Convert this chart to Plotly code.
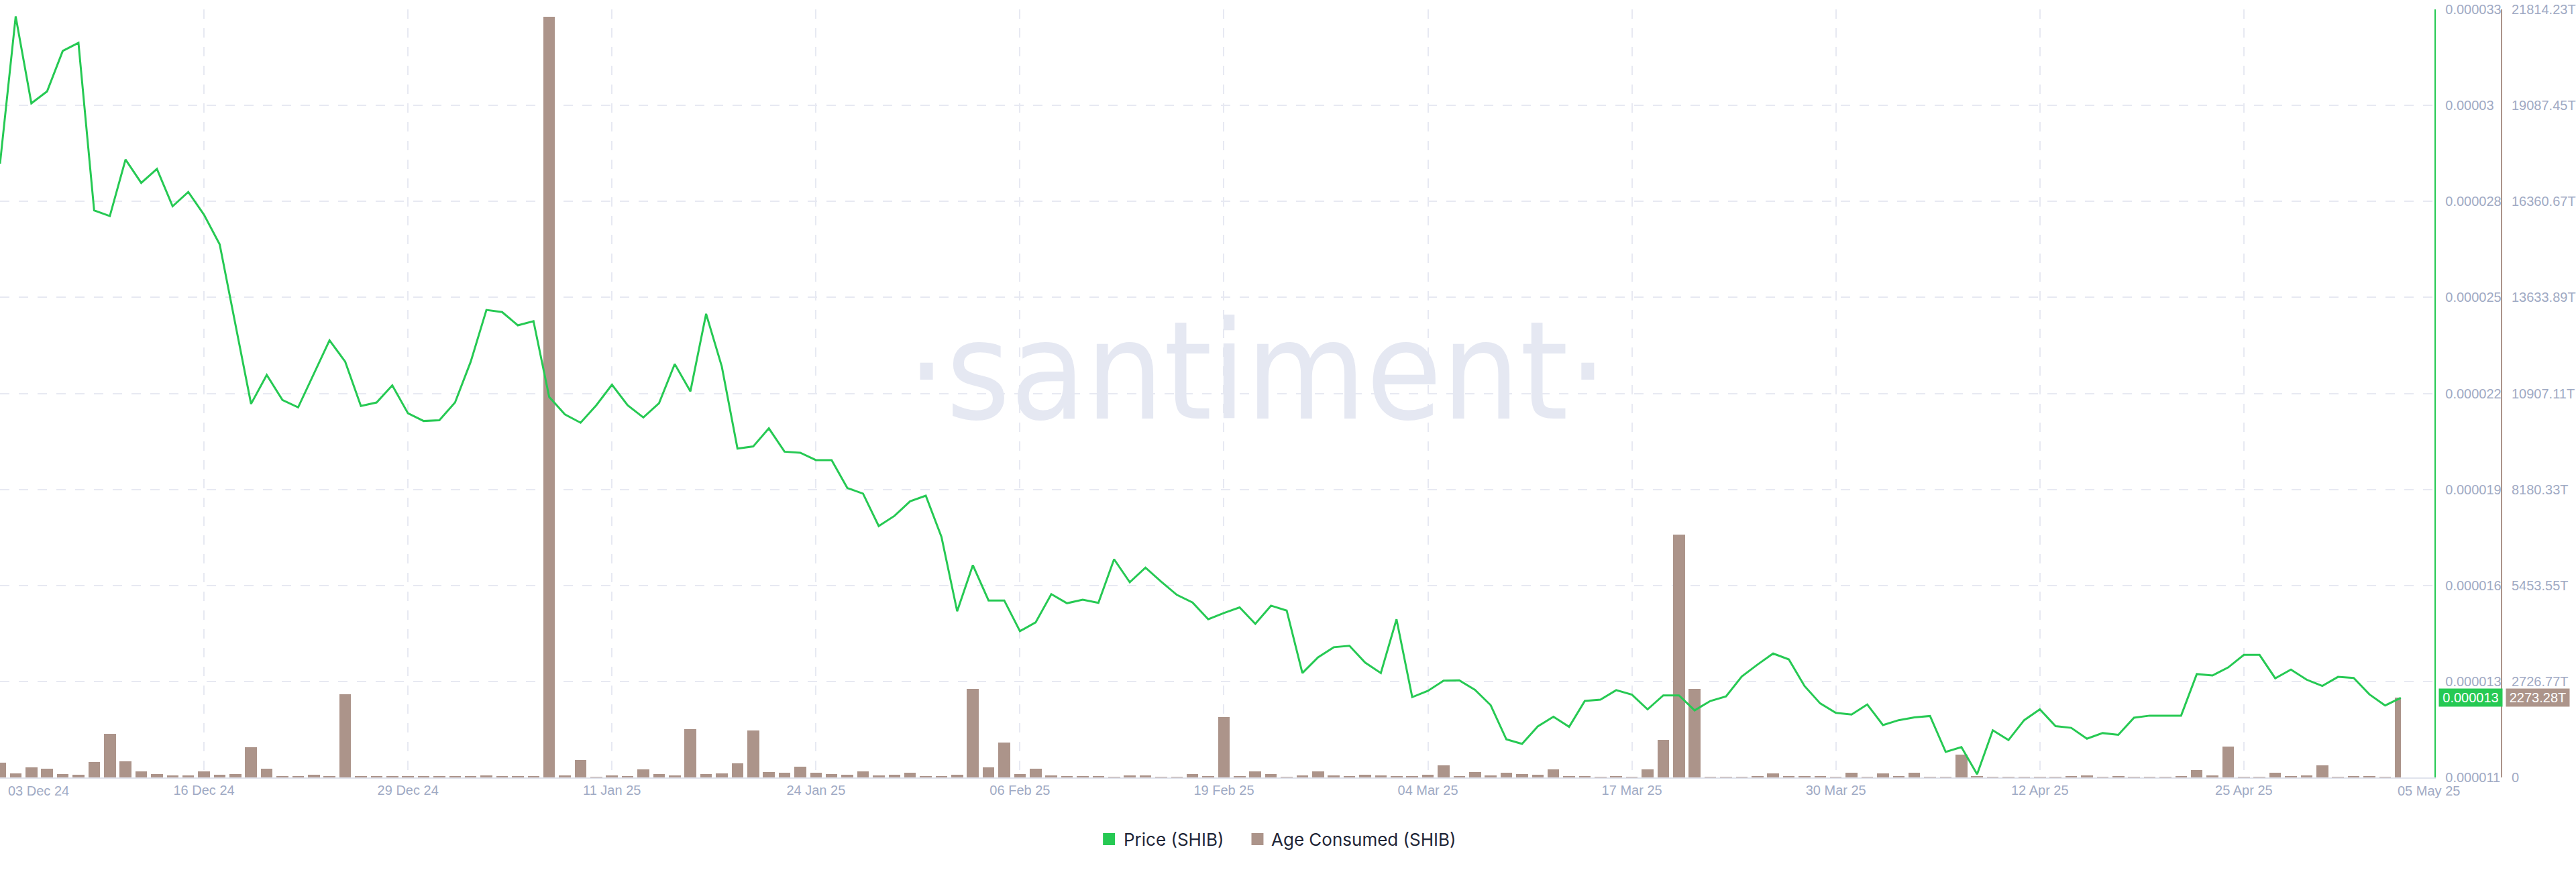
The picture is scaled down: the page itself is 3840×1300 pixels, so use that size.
import plotly.graph_objects as go
import pandas as pd

# ---------------- data ----------------
start_date = "2024-12-03"

# Price (SHIB) in micro-USD (x 1e-6), one value per day from 03 Dec 24 to 05 May 25
price_micro = [
    28.58, 32.80, 30.31, 30.65, 31.81, 32.04, 27.24, 27.08, 28.70, 28.03,
    28.43, 27.36, 27.77, 27.12, 26.27, 23.97, 21.70, 22.53, 21.81, 21.60,
    22.55, 23.52, 22.91, 21.64, 21.74, 22.23, 21.43, 21.21, 21.23, 21.74,
    22.91, 24.39, 24.33, 23.95, 24.07, 21.90, 21.40, 21.16, 21.66, 22.25,
    21.66, 21.31, 21.72, 22.84, 22.06, 24.28, 22.77, 20.42, 20.48, 21.00,
    20.33, 20.30, 20.09, 20.09, 19.29, 19.13, 18.20, 18.49, 18.91, 19.07,
    17.89, 15.76, 17.08, 16.07, 16.07, 15.19, 15.44, 16.25, 15.99, 16.09,
    16.00, 17.25, 16.59, 17.01, 16.61, 16.23, 16.01, 15.53, 15.71, 15.87,
    15.40, 15.92, 15.78, 13.99, 14.44, 14.73, 14.77, 14.29, 13.99, 15.53,
    13.30, 13.48, 13.77, 13.78, 13.51, 13.07, 12.09, 11.96, 12.46, 12.74,
    12.45, 13.19, 13.23, 13.50, 13.37, 12.95, 13.35, 13.35, 12.92, 13.19,
    13.32, 13.89, 14.23, 14.55, 14.38, 13.62, 13.12, 12.85, 12.80, 13.09,
    12.50, 12.64, 12.72, 12.76, 11.73, 11.87, 11.09, 12.35, 12.07, 12.64,
    12.95, 12.47, 12.42, 12.11, 12.27, 12.22, 12.71, 12.77, 12.77, 12.77,
    13.96, 13.92, 14.15, 14.51, 14.51, 13.84, 14.09, 13.80, 13.62, 13.88,
    13.85, 13.38, 13.06, 13.28,
]

# Age Consumed (SHIB) in trillions (T), one value per day
age_consumed_T = [
    414, 121, 293, 255, 102, 83, 433, 1230, 465, 178,
    89, 64, 64, 178, 83, 102, 866, 242, 45, 25,
    83, 45, 2364, 25, 25, 25, 45, 25, 45, 25,
    45, 64, 38, 25, 45, 21600, 51, 497, 15, 62,
    30, 237, 88, 62, 1381, 97, 114, 396, 1328, 158,
    141, 308, 141, 88, 70, 167, 62, 70, 141, 35,
    35, 70, 2507, 281, 994, 88, 255, 53, 35, 35,
    35, 18, 62, 53, 8, 15, 97, 45, 1718, 38,
    172, 102, 19, 57, 166, 64, 38, 77, 57, 38,
    45, 83, 345, 45, 153, 51, 140, 102, 70, 224,
    45, 26, 10, 38, 15, 224, 1073, 6890, 2522, 10,
    10, 10, 30, 121, 38, 32, 32, 3, 134, 10,
    109, 38, 140, 12, 12, 651, 26, 15, 15, 12,
    3, 3, 25, 57, 19, 45, 10, 3, 3, 20,
    204, 57, 881, 15, 10, 134, 26, 57, 345, 3,
    38, 26, 10, 2273.28,
]

price_tick_labels = ["0.000011", "0.000013", "0.000016", "0.000019", "0.000022",
                     "0.000025", "0.000028", "0.00003", "0.000033"]
price_axis_min, price_axis_max = 0.000011, 0.000033

age_tick_labels = ["0", "2726.77T", "5453.55T", "8180.33T", "10907.11T",
                   "13633.89T", "16360.67T", "19087.45T", "21814.23T"]

x_tick_dates = ["2024-12-03", "2024-12-16", "2024-12-29", "2025-01-11", "2025-01-24",
                "2025-02-06", "2025-02-19", "2025-03-04", "2025-03-17", "2025-03-30",
                "2025-04-12", "2025-04-25"]
x_tick_labels = ["", "16 Dec 24", "29 Dec 24", "11 Jan 25", "24 Jan 25",
                 "06 Feb 25", "19 Feb 25", "04 Mar 25", "17 Mar 25", "30 Mar 25",
                 "12 Apr 25", "25 Apr 25"]
first_date_label = "03 Dec 24"
last_date_label = "05 May 25"
last_price_label = "0.000013"
last_age_label = "2273.28T"

legend_labels = ["Price (SHIB)", "Age Consumed (SHIB)"]
watermark = "\u00b7santiment\u00b7"

# ---------------- derived ----------------
dates = pd.date_range(start_date, periods=len(price_micro), freq="D")
price = [p * 1e-6 for p in price_micro]
n = len(dates)
price_tick_vals = [price_axis_min + i * (price_axis_max - price_axis_min) / (len(price_tick_labels) - 1)
                   for i in range(len(price_tick_labels))]
age_tick_vals = [float(t.rstrip("T")) for t in age_tick_labels]

# ---------------- style / layout constants ----------------
W, H = 3840, 1300
PLOT_R = 3640       # price axis x (px)
AGE_X = 3740        # age axis x (px)
PLOT_T, PLOT_B = 14, 1159
GREEN = "#26c953"
BROWN = "#ac948a"
GRID = "#e7e9f2"
TICK_COLOR = "#9faac4"
AXIS_FONT = "Liberation Sans, Arial, sans-serif"
DAY_MS = 86400000
BAR_W = 0.75 * DAY_MS


def px_x(px):
    return px / AGE_X


def px_y(py):
    return (PLOT_B - py) / (PLOT_B - PLOT_T)


bar_widths = [BAR_W] * (n - 1) + [BAR_W / 2]
bar_offsets = [-BAR_W / 2] * n

fig = go.Figure()
fig.add_trace(go.Bar(
    x=dates, y=age_consumed_T, yaxis="y", name=legend_labels[1],
    marker=dict(color=BROWN, line=dict(width=0)),
    width=bar_widths, offset=bar_offsets, showlegend=False,
))
fig.add_trace(go.Scatter(
    x=dates, y=price, yaxis="y2", name=legend_labels[0], mode="lines",
    line=dict(color=GREEN, width=3), showlegend=False,
))

tickfont = dict(family=AXIS_FONT, size=20, color=TICK_COLOR)

fig.update_layout(
    width=W, height=H,
    margin=dict(l=0, r=W - AGE_X, t=PLOT_T, b=H - PLOT_B, pad=0),
    paper_bgcolor="white", plot_bgcolor="white",
    showlegend=False,
    bargap=0,
    xaxis=dict(
        domain=[0, PLOT_R / AGE_X],
        type="date",
        range=["2024-12-03 00:00:00", "2025-05-07 03:50:00"],
        tickvals=x_tick_dates, ticktext=x_tick_labels,
        showgrid=True, gridcolor=GRID, gridwidth=2, griddash="14px,14px",
        showline=True, linecolor="#e0e3ed", linewidth=2,
        ticks="", ticklabelstandoff=0, tickfont=tickfont,
        zeroline=False,
    ),
    yaxis=dict(
        range=[0, age_tick_vals[-1]],
        side="right", anchor="free", position=1.0,
        tickvals=age_tick_vals, ticktext=age_tick_labels,
        showgrid=True, gridcolor=GRID, gridwidth=2, griddash="14px,14px",
        showline=True, linecolor=BROWN, linewidth=2,
        ticks="", ticklabelstandoff=10, tickfont=tickfont,
        zeroline=False,
    ),
    yaxis2=dict(
        range=[price_axis_min, price_axis_max],
        overlaying="y", side="right", anchor="x",
        tickvals=price_tick_vals, ticktext=price_tick_labels,
        showgrid=False,
        showline=True, linecolor=GREEN, linewidth=2,
        ticks="", ticklabelstandoff=10, tickfont=tickfont,
        zeroline=False,
    ),
)

annotations = [
    # watermark
    dict(text=watermark, xref="paper", yref="paper", x=px_x(1880), y=px_y(553),
         xanchor="center", yanchor="middle", showarrow=False,
         font=dict(family="DejaVu Sans Condensed, DejaVu Sans, sans-serif",
                   size=204, color="#e5e8f2")),
    # edge date labels
    dict(text=first_date_label, xref="x", yref="paper", x=dates[0], y=0, xanchor="left",
         yanchor="middle", xshift=10, yshift=-20, showarrow=False, font=tickfont),
    dict(text=last_date_label, xref="x", yref="paper", x=dates[-1], y=0, xanchor="left",
         yanchor="middle", xshift=-7, yshift=-20, showarrow=False, font=tickfont),
    # last value badges
    dict(text=last_price_label, xref="paper", yref="y2", x=px_x(3646), y=price[-1],
         xanchor="left", yanchor="middle", showarrow=False, bgcolor=GREEN,
         width=94, height=26, borderpad=0, align="center",
         font=dict(family=AXIS_FONT, size=20, color="white")),
    dict(text=last_age_label, xref="paper", yref="y", x=px_x(3746), y=age_consumed_T[-1],
         xanchor="left", yanchor="middle", showarrow=False, bgcolor=BROWN,
         width=94, height=26, borderpad=0, align="center",
         font=dict(family=AXIS_FONT, size=20, color="white")),
    # legend texts
    dict(text=legend_labels[0], xref="paper", yref="paper", x=px_x(1678), y=px_y(1251),
         xanchor="left", yanchor="middle", showarrow=False,
         font=dict(family="Inter, Open Sans, sans-serif", size=26, color="#1f2637")),
    dict(text=legend_labels[1], xref="paper", yref="paper", x=px_x(1899), y=px_y(1251),
         xanchor="left", yanchor="middle", showarrow=False,
         font=dict(family="Inter, Open Sans, sans-serif", size=26, color="#1f2637")),
]

shapes = [
    dict(type="rect", xref="paper", yref="paper", x0=px_x(1649), x1=px_x(1667),
         y0=px_y(1260), y1=px_y(1242), fillcolor=GREEN, line=dict(width=0)),
    dict(type="rect", xref="paper", yref="paper", x0=px_x(1871), x1=px_x(1889),
         y0=px_y(1260), y1=px_y(1242), fillcolor=BROWN, line=dict(width=0)),
]

fig.update_layout(annotations=annotations, shapes=shapes)

# remove the browser's default 8px body margin so the figure sits at the page origin
fig.write_html("out.html",
               config={"displayModeBar": False},
               post_script="document.body.style.margin='0px';document.body.style.overflow='hidden';")
